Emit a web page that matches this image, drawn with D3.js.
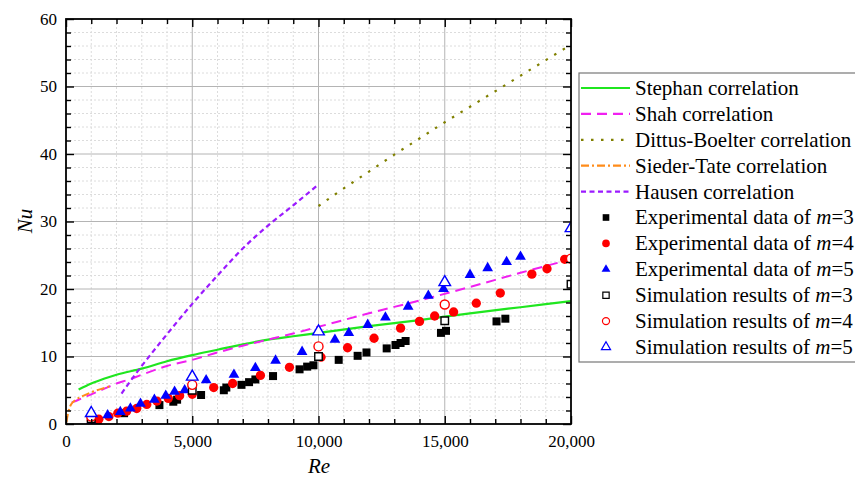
<!DOCTYPE html>
<html>
<head>
<meta charset="utf-8">
<script src="https://cdn.jsdelivr.net/npm/d3@7"></script>
<style>
  body { margin: 0; background: #fff; }
  svg { font-family: "Liberation Serif", "Times New Roman", serif; }
</style>
</head>
<body>
<svg id="chart" width="855" height="479"></svg>
<script>
// correlation curves, [Re, Nu]
const stephan = [[500,5.1],[1000,6.0],[1500,6.7],[2000,7.3],[3000,8.2],[4000,9.3],[5000,10.2],[6000,11.0],[7000,11.8],[8000,12.5],[9000,13.0],[10000,13.5],[12000,14.5],[14000,15.4],[16000,16.4],[18000,17.3],[20000,18.2]];
const shah = [[230,3.2],[500,3.6],[1000,4.4],[1500,5.2],[2000,6.0],[2500,6.6],[3000,7.3],[4000,8.6],[5000,9.5],[6000,10.6],[7000,11.6],[8000,12.5],[9000,13.4],[10000,14.4],[12000,16.4],[14000,18.3],[16000,20.3],[18000,22.4],[20000,24.4]];
const dittus = [[10000,32.3],[11000,34.9],[12000,37.4],[13000,39.9],[14000,42.3],[15000,44.7],[16000,47.0],[17000,49.3],[18000,51.6],[19000,53.9],[20000,56.2]];
const sieder = [[20,0.3],[60,1.2],[100,1.9],[200,2.9],[400,3.6],[700,4.2],[1000,4.7],[1400,5.2],[1750,5.6]];
const hausen = [[2200,4.5],[2500,6.1],[3000,8.6],[4000,13.3],[5000,17.8],[6000,22.0],[7000,26.0],[8000,29.4],[9000,32.4],[10000,35.5]];

// experimental data
const expM3 = [[1000,0.3],[1250,0.6],[2300,1.6],[3700,2.8],[4250,3.3],[4400,3.6],[5350,4.3],[6250,5.0],[6350,5.4],[6950,5.8],[7250,6.2],[7500,6.6],[8200,7.1],[9250,8.1],[9550,8.5],[9800,8.7],[10800,9.5],[11550,10.1],[11900,10.6],[12700,11.2],[13050,11.7],[13250,12.0],[13450,12.3],[14850,13.5],[15050,13.8],[17050,15.2],[17400,15.6]];
const expM4 = [[1000,0.5],[1300,0.7],[1700,1.1],[2050,1.6],[2400,1.9],[2800,2.3],[3200,2.9],[3600,3.4],[4050,3.8],[4500,4.2],[5000,4.4],[5850,5.4],[6600,6.0],[7700,7.2],[8850,8.4],[10100,9.9],[11150,11.3],[12200,12.7],[13250,14.2],[14000,15.2],[14600,16.0],[15350,16.6],[16250,17.9],[17200,19.4],[18450,22.2],[19050,23.0],[19750,24.4]];
const expM5 = [[1000,0.4],[1650,1.3],[2150,1.8],[2550,2.3],[2950,3.0],[3500,3.6],[3950,4.2],[4300,4.8],[4700,5.0],[5550,6.5],[6650,7.3],[7500,8.3],[8300,9.4],[9350,10.7],[10650,12.5],[11200,13.5],[11950,14.7],[12650,15.8],[13550,17.4],[14350,19.0],[14950,20.0],[16000,22.1],[16700,23.1],[17450,24.0],[18000,24.8]];

// simulation results
const simM3 = [[1000,0.8],[5000,5.0],[10000,10.0],[15000,15.3],[20000,20.7]];
const simM4 = [[1000,1.1],[5000,5.8],[10000,11.5],[15000,17.7],[20000,24.5]];
const simM5 = [[1000,1.6],[5000,7.0],[10000,13.7],[15000,21.0],[20000,29.0]];

const xTicks = [0, 5000, 10000, 15000, 20000];
const yTicks = [0, 10, 20, 30, 40, 50, 60];

const svg = d3.select("#chart");
const pL = 66, pT = 19, pR = 571, pB = 424;

const x = d3.scaleLinear().domain([0, 20000]).range([pL, pR]);
const y = d3.scaleLinear().domain([0, 60]).range([pB, pT]);

const xMinor = d3.range(0, 20001, 1000).filter(d => d % 5000 !== 0);
const yMinor = d3.range(0, 61, 2).filter(d => d % 10 !== 0);

svg.append("defs").append("clipPath").attr("id", "clip")
  .append("rect").attr("x", pL).attr("y", pT)
  .attr("width", pR - pL).attr("height", pB - pT);

// grid
const grid = svg.append("g");
grid.selectAll(null).data(xMinor).enter().append("line")
  .attr("x1", d => x(d)).attr("x2", d => x(d)).attr("y1", pT).attr("y2", pB)
  .attr("stroke", "#dcdcdc").attr("stroke-dasharray", "2,2");
grid.selectAll(null).data(yMinor).enter().append("line")
  .attr("x1", pL).attr("x2", pR).attr("y1", d => y(d)).attr("y2", d => y(d))
  .attr("stroke", "#dcdcdc").attr("stroke-dasharray", "2,2");
grid.selectAll(null).data(xTicks.slice(1, -1)).enter().append("line")
  .attr("x1", d => x(d)).attr("x2", d => x(d)).attr("y1", pT).attr("y2", pB)
  .attr("stroke", "#b4b4b4");
grid.selectAll(null).data(yTicks.slice(1, -1)).enter().append("line")
  .attr("x1", pL).attr("x2", pR).attr("y1", d => y(d)).attr("y2", d => y(d))
  .attr("stroke", "#b4b4b4");

// curves
const line = d3.line().x(d => x(d[0])).y(d => y(d[1])).curve(d3.curveMonotoneX);
const curves = [
  { name: "Stephan correlation", data: stephan, color: "#1fe61f", dash: null, w: 2.2 },
  { name: "Shah correlation", data: shah, color: "#f020f0", dash: "10,6", w: 2 },
  { name: "Dittus-Boelter correlation", data: dittus, color: "#808000", dash: "2.5,7.5", w: 2.2 },
  { name: "Sieder-Tate correlation", data: sieder, color: "#ff8c1a", dash: "8,3,2,3", w: 2 },
  { name: "Hausen correlation", data: hausen, color: "#9b1aff", dash: "5,3.5", w: 2.2 }
];
const plot = svg.append("g").attr("clip-path", "url(#clip)");
curves.forEach(c => {
  plot.append("path").datum(c.data)
    .attr("d", line)
    .attr("fill", "none")
    .attr("stroke", c.color)
    .attr("stroke-width", c.w)
    .attr("stroke-dasharray", c.dash);
});

// markers
const markers = [
  { label: "Experimental data of ", m: "3", data: expM3, type: d3.symbolSquare, size: 64, lsize: 44, fill: "#000", stroke: "none" },
  { label: "Experimental data of ", m: "4", data: expM4, type: d3.symbolCircle, size: 68, lsize: 46, fill: "#ff0000", stroke: "none" },
  { label: "Experimental data of ", m: "5", data: expM5, type: d3.symbolTriangle, size: 50, lsize: 34, fill: "#0000ff", stroke: "none" },
  { label: "Simulation results of ", m: "3", data: simM3, type: d3.symbolSquare, size: 56, lsize: 40, fill: "#fff", stroke: "#000" },
  { label: "Simulation results of ", m: "4", data: simM4, type: d3.symbolCircle, size: 64, lsize: 40, fill: "#fff", stroke: "#ff0000" },
  { label: "Simulation results of ", m: "5", data: simM5, type: d3.symbolTriangle, size: 58, lsize: 36, fill: "#fff", stroke: "#0000ff" }
];
const pts = svg.append("g").attr("clip-path", "url(#clip)");
markers.forEach(s => {
  pts.selectAll(null).data(s.data).enter().append("path")
    .attr("d", d3.symbol().type(s.type).size(s.size))
    .attr("transform", d => "translate(" + x(d[0]) + "," + y(d[1]) + ")")
    .attr("fill", s.fill)
    .attr("stroke", s.stroke)
    .attr("stroke-width", 1.4);
});

// axes
const tickFont = g => g.selectAll("text").attr("font-size", 17).attr("fill", "#000")
  .attr("font-family", "Liberation Serif, serif");

svg.append("g").attr("transform", "translate(0," + pB + ")")
  .call(d3.axisBottom(x).tickValues(xTicks).tickSize(-8).tickPadding(11).tickFormat(d3.format(",")))
  .call(g => g.select(".domain").remove())
  .call(tickFont);
svg.append("g").attr("transform", "translate(0," + pB + ")")
  .call(d3.axisBottom(x).tickValues(xMinor).tickSize(-5).tickFormat(""))
  .call(g => g.select(".domain").remove());
svg.append("g").attr("transform", "translate(0," + pT + ")")
  .call(d3.axisTop(x).tickValues(xTicks).tickSize(-8).tickFormat(""))
  .call(g => g.select(".domain").remove());
svg.append("g").attr("transform", "translate(0," + pT + ")")
  .call(d3.axisTop(x).tickValues(xMinor).tickSize(-5).tickFormat(""))
  .call(g => g.select(".domain").remove());

svg.append("g").attr("transform", "translate(" + pL + ",0)")
  .call(d3.axisLeft(y).tickValues(yTicks).tickSize(-8).tickPadding(9))
  .call(g => g.select(".domain").remove())
  .call(tickFont);
svg.append("g").attr("transform", "translate(" + pL + ",0)")
  .call(d3.axisLeft(y).tickValues(yMinor).tickSize(-5).tickFormat(""))
  .call(g => g.select(".domain").remove());
svg.append("g").attr("transform", "translate(" + pR + ",0)")
  .call(d3.axisRight(y).tickValues(yTicks).tickSize(-8).tickFormat(""))
  .call(g => g.select(".domain").remove());
svg.append("g").attr("transform", "translate(" + pR + ",0)")
  .call(d3.axisRight(y).tickValues(yMinor).tickSize(-5).tickFormat(""))
  .call(g => g.select(".domain").remove());

svg.selectAll(".tick line").attr("stroke", "#000").attr("stroke-width", 1.4);

svg.append("rect").attr("x", pL).attr("y", pT)
  .attr("width", pR - pL).attr("height", pB - pT)
  .attr("fill", "none").attr("stroke", "#000").attr("stroke-width", 1.8);

// axis titles
svg.append("text").attr("x", 319).attr("y", 473).attr("text-anchor", "middle")
  .attr("font-size", 21).attr("font-style", "italic").text("Re");
svg.append("text").attr("transform", "translate(32,221) rotate(-90)").attr("text-anchor", "middle")
  .attr("font-size", 21).attr("font-style", "italic").text("Nu");

// legend
const lg = svg.append("g");
lg.append("rect").attr("x", 579).attr("y", 73).attr("width", 290).attr("height", 289)
  .attr("fill", "#fff").attr("stroke", "#777").attr("stroke-width", 1.2);
const rowY = i => 88 + i * 25.9;
curves.forEach((c, i) => {
  lg.append("line").attr("x1", 581).attr("x2", 630).attr("y1", rowY(i)).attr("y2", rowY(i))
    .attr("stroke", c.color).attr("stroke-width", 2.2).attr("stroke-dasharray", c.dash);
  lg.append("text").attr("x", 635).attr("y", rowY(i)).attr("dy", "0.33em")
    .attr("font-size", 21).text(c.name);
});
markers.forEach((s, j) => {
  const i = j + curves.length;
  lg.append("path").attr("d", d3.symbol().type(s.type).size(s.lsize))
    .attr("transform", "translate(606," + rowY(i) + ")")
    .attr("fill", s.fill).attr("stroke", s.stroke).attr("stroke-width", 1.2);
  const t = lg.append("text").attr("x", 635).attr("y", rowY(i)).attr("dy", "0.33em")
    .attr("font-size", 21);
  t.append("tspan").text(s.label);
  t.append("tspan").attr("font-style", "italic").text("m");
  t.append("tspan").text("=" + s.m);
});
</script>
</body>
</html>
